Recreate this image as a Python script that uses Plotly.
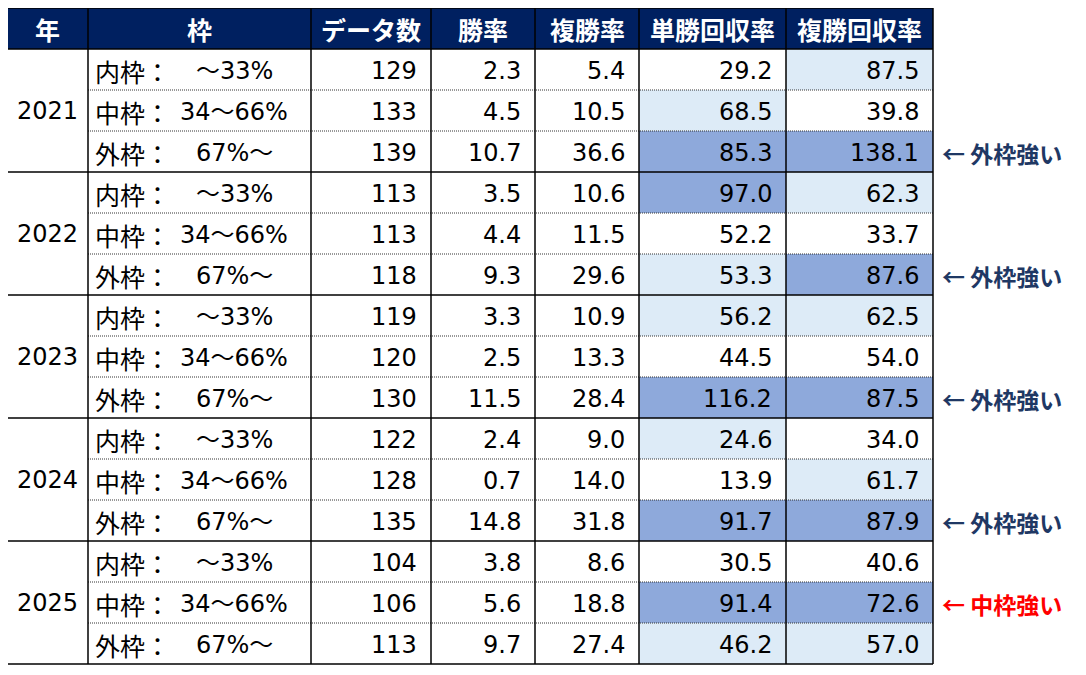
import plotly.graph_objects as go

# table data
headers = ["年", "枠", "データ数", "勝率", "複勝率", "単勝回収率", "複勝回収率"]
years = ["2021", "2022", "2023", "2024", "2025"]
frame_names = ["内枠：", "中枠：", "外枠："]
frame_ranges = ["～33%", "34～66%", "67%～"]

counts = [129, 133, 139, 113, 113, 118, 119, 120, 130, 122, 128, 135, 104, 106, 113]
win_rate = [2.3, 4.5, 10.7, 3.5, 4.4, 9.3, 3.3, 2.5, 11.5, 2.4, 0.7, 14.8, 3.8, 5.6, 9.7]
place_rate = [5.4, 10.5, 36.6, 10.6, 11.5, 29.6, 10.9, 13.3, 28.4, 9.0, 14.0, 31.8, 8.6, 18.8, 27.4]
win_return = [29.2, 68.5, 85.3, 97.0, 52.2, 53.3, 56.2, 44.5, 116.2, 24.6, 13.9, 91.7, 30.5, 91.4, 46.2]
place_return = [87.5, 39.8, 138.1, 62.3, 33.7, 87.6, 62.5, 54.0, 87.5, 34.0, 61.7, 87.9, 40.6, 72.6, 57.0]

# highlight level: 0 none, 1 light, 2 strong
win_level = [0, 1, 2, 2, 0, 1, 1, 0, 2, 1, 0, 2, 0, 2, 1]
place_level = [1, 0, 2, 1, 0, 2, 1, 0, 2, 0, 1, 2, 0, 2, 1]

notes = {2: "← 外枠強い", 5: "← 外枠強い", 8: "← 外枠強い", 11: "← 外枠強い", 13: "← 中枠強い"}
note_colors = {2: "#1F3864", 5: "#1F3864", 8: "#1F3864", 11: "#1F3864", 13: "#FF0000"}

# geometry
col_edges = [7, 88, 311, 431, 535, 639, 786, 933]
top = 8
row_h = 41
page_pad = 8  # body margin of the html page
navy = "#002060"
fills = {0: "white", 1: "#DDEBF7", 2: "#8EA9DB"}
body_font = "DejaVu Sans, Noto Sans CJK JP, sans-serif"
jp_font = "Noto Sans CJK JP, sans-serif"

n_rows = len(counts)
y_edge = lambda r: top + row_h * (r + 1)  # top of data row r
bottom = y_edge(n_rows)

fig = go.Figure()
shapes = []
annotations = []

# header background
shapes.append(dict(type="rect", x0=col_edges[0], x1=col_edges[-1], y0=top, y1=top + row_h,
                   fillcolor=navy, line_width=0, layer="below"))
for c, h in enumerate(headers):
    annotations.append(dict(x=(col_edges[c] + col_edges[c + 1]) / 2, y=top + row_h / 2, text=h,
                            showarrow=False, xanchor="center", yanchor="middle",
                            font=dict(family=jp_font, size=25, color="white", weight="bold")))

# cell fills
for r in range(n_rows):
    for c, lev in ((5, win_level[r]), (6, place_level[r])):
        if lev:
            shapes.append(dict(type="rect", x0=col_edges[c], x1=col_edges[c + 1],
                               y0=y_edge(r), y1=y_edge(r + 1),
                               fillcolor=fills[lev], line_width=0, layer="below"))

# dotted inner row lines
for r in range(n_rows):
    if r % 3 != 0:
        shapes.append(dict(type="line", x0=col_edges[1], x1=col_edges[-1], y0=y_edge(r), y1=y_edge(r),
                           line=dict(color="#333333", width=1, dash="1px,1px")))

# solid group lines
for g in range(len(years) + 1):
    yy = y_edge(g * 3)
    shapes.append(dict(type="line", x0=col_edges[0], x1=col_edges[-1], y0=yy, y1=yy,
                       line=dict(color="black", width=1.5)))
shapes.append(dict(type="line", x0=col_edges[0], x1=col_edges[-1], y0=top, y1=top,
                   line=dict(color="black", width=1.5)))

# vertical lines
for x in col_edges:
    shapes.append(dict(type="line", x0=x, x1=x, y0=top, y1=bottom,
                       line=dict(color="black", width=1.5)))

# year labels
for g, yr in enumerate(years):
    annotations.append(dict(x=(col_edges[0] + col_edges[1]) / 2, y=(y_edge(g * 3) + y_edge(g * 3 + 3)) / 2,
                            text=yr, showarrow=False, xanchor="center", yanchor="middle",
                            font=dict(family=body_font, size=24, color="black")))

# row values
range_center = col_edges[1] + 146
for r in range(n_rows):
    yc = (y_edge(r) + y_edge(r + 1)) / 2 + 1
    k = r % 3
    annotations.append(dict(x=col_edges[1] + 5, y=yc, text=frame_names[k], showarrow=False,
                            xanchor="left", yanchor="middle",
                            font=dict(family=jp_font, size=25, color="black")))
    annotations.append(dict(x=range_center, y=yc, text=frame_ranges[k], showarrow=False,
                            xanchor="center", yanchor="middle",
                            font=dict(family=body_font, size=24, color="black")))
    vals = [str(counts[r]), f"{win_rate[r]:.1f}", f"{place_rate[r]:.1f}",
            f"{win_return[r]:.1f}", f"{place_return[r]:.1f}"]
    for j, v in enumerate(vals):
        annotations.append(dict(x=col_edges[j + 3] - 12, y=yc, text=v, showarrow=False,
                                xanchor="right", yanchor="middle",
                                font=dict(family=body_font, size=24, color="black")))
    if r in notes:
        annotations.append(dict(x=col_edges[-1] + 7, y=yc, text=notes[r], showarrow=False,
                                xanchor="left", yanchor="middle",
                                font=dict(family=jp_font, size=23, color=note_colors[r], weight="bold")))

fig.update_layout(
    width=1086, height=675,
    margin=dict(l=0, r=0, t=0, b=0),
    paper_bgcolor="white", plot_bgcolor="white",
    xaxis=dict(range=[page_pad, 1086 + page_pad], visible=False, fixedrange=True),
    yaxis=dict(range=[675 + page_pad, page_pad], visible=False, fixedrange=True),
    shapes=shapes, annotations=annotations,
    showlegend=False,
)

fig.write_html("out.html")
